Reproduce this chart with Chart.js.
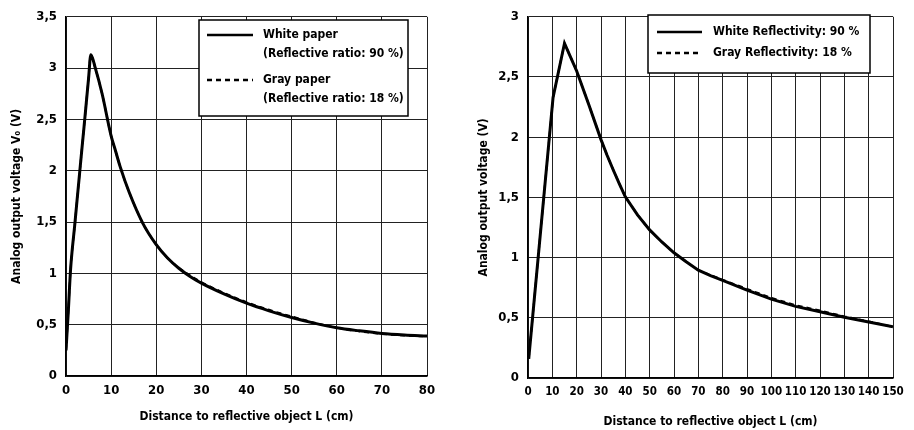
<!DOCTYPE html>
<html>
<head>
<meta charset="utf-8">
<script src="https://cdn.jsdelivr.net/npm/chart.js@4/dist/chart.umd.min.js"></script>
<style>
    html, body { margin: 0; padding: 0; background: #fff; }
    #wrap { display: flex; width: 914px; height: 430px; }
    canvas { display: block; }
</style>
</head>
<body>
<div id="wrap">
    <canvas id="grafico-esquerda" width="457" height="430"></canvas>
    <canvas id="grafico-direita" width="457" height="430"></canvas>
</div>
<script>
// Dados do gráfico da esquerda (0 - 80 cm)
const distEsq = [0, 0.5, 1, 2, 3, 4, 5, 5.5, 6.5, 8, 10, 11, 12, 14, 17, 20, 22.5, 25, 27.5, 30, 35, 40, 45, 50, 55, 60, 65, 70, 75, 80];
const brancoEsq = [0.25, 0.62, 1.03, 1.5, 1.97, 2.43, 2.9, 3.13, 3.0, 2.75, 2.34, 2.19, 2.04, 1.79, 1.49, 1.28, 1.15, 1.05, 0.97, 0.905, 0.8, 0.71, 0.635, 0.57, 0.515, 0.47, 0.44, 0.415, 0.4, 0.39];
const cinzaEsq = [0.25, 0.62, 1.03, 1.5, 1.97, 2.43, 2.9, 3.13, 3.0, 2.75, 2.34, 2.19, 2.04, 1.79, 1.49, 1.28, 1.15, 1.055, 0.98, 0.915, 0.81, 0.72, 0.645, 0.58, 0.52, 0.47, 0.435, 0.41, 0.395, 0.385];
const legendaEsq = [['White paper', '(Reflective ratio: 90 %)'], ['Gray paper', '(Reflective ratio: 18 %)']];

// Dados do gráfico da direita (0 - 150 cm)
const distDir = [0.3, 10.3, 15, 20, 25, 30, 32.5, 35, 37.5, 40, 45, 50, 55, 60, 65, 70, 75, 80, 90, 100, 110, 120, 130, 140, 150];
const brancoDir = [0.16, 2.33, 2.78, 2.55, 2.27, 1.98, 1.85, 1.73, 1.615, 1.505, 1.355, 1.23, 1.13, 1.04, 0.965, 0.895, 0.85, 0.81, 0.73, 0.655, 0.595, 0.55, 0.505, 0.465, 0.425];
const cinzaDir = [0.16, 2.33, 2.78, 2.55, 2.27, 1.98, 1.85, 1.73, 1.615, 1.505, 1.355, 1.23, 1.13, 1.04, 0.965, 0.895, 0.855, 0.815, 0.74, 0.665, 0.605, 0.56, 0.512, 0.47, 0.425];
const legendaDir = [['White Reflectivity: 90 %'], ['Gray Reflectivity: 18 %']];

const FONTE = "'DejaVu Sans Condensed', 'Liberation Sans Narrow', sans-serif";

const pontos = (xs, ys) => xs.map((x, i) => ({ x: x, y: ys[i] }));
const virgula = (v) => String(v).replace('.', ',');

// Legenda dentro da área do gráfico, com caixa
const legendaCaixa = {
    id: 'legendaCaixa',
    afterDraw(chart, args, opts) {
        const ctx = chart.ctx;
        ctx.save();
        ctx.fillStyle = '#fff';
        ctx.fillRect(opts.x, opts.y, opts.w, opts.h);
        ctx.lineWidth = 1.5;
        ctx.strokeStyle = '#000';
        ctx.strokeRect(opts.x, opts.y, opts.w, opts.h);
        ctx.font = 'bold 12px ' + FONTE;
        ctx.textBaseline = 'middle';
        ctx.fillStyle = '#000';
        opts.linhas.forEach((linhas, i) => {
            const ds = chart.data.datasets[i];
            const y = opts.yItens[i];
            ctx.beginPath();
            ctx.lineWidth = 2.5;
            ctx.setLineDash(ds.borderDash || []);
            ctx.moveTo(opts.amostraX, y);
            ctx.lineTo(opts.amostraX + opts.amostraW, y);
            ctx.stroke();
            ctx.setLineDash([]);
            linhas.forEach((txt, j) => {
                ctx.fillText(txt, opts.textoX, y + j * opts.entreLinhas);
            });
        });
        ctx.restore();
    }
};

const criarGrafico = (id, cfg) => {
    const ctx = document.getElementById(id).getContext('2d');
    return new Chart(ctx, {
        type: 'line',
        data: {
            datasets: [{
                label: cfg.legenda[0].join(' '),
                data: pontos(cfg.xs, cfg.branco),
                borderColor: '#000',
                borderWidth: 3,
                pointRadius: 0,
                cubicInterpolationMode: cfg.curva,
                fill: false
            }, {
                label: cfg.legenda[1].join(' '),
                data: pontos(cfg.xs, cfg.cinza),
                borderColor: '#000',
                borderWidth: 2,
                borderDash: [5, 4],
                pointRadius: 0,
                cubicInterpolationMode: cfg.curva,
                fill: false
            }]
        },
        options: {
            responsive: false,
            animation: false,
            layout: { padding: cfg.padding },
            plugins: {
                legend: { display: false },
                tooltip: { enabled: false },
                legendaCaixa: cfg.caixa
            },
            scales: {
                x: {
                    type: 'linear',
                    min: 0,
                    max: cfg.xMax,
                    border: { color: '#000', width: 1.5 },
                    grid: { color: '#222', lineWidth: 1, drawTicks: false },
                    ticks: {
                        stepSize: 10,
                        autoSkip: false,
                        maxRotation: 0,
                        padding: cfg.xTickPad,
                        color: '#000',
                        font: { family: FONTE, size: cfg.xTickTam, weight: 'bold' }
                    },
                    title: {
                        display: true,
                        text: 'Distance to reflective object L (cm)',
                        color: '#000',
                        font: { family: FONTE, size: 12, weight: 'bold', lineHeight: 1.2 },
                        padding: { top: 0, bottom: cfg.xTitlePad }
                    },
                    afterFit: (s) => { s.height = cfg.xAltura; }
                },
                y: {
                    min: 0,
                    max: cfg.yMax,
                    border: { color: '#000', width: 1.5 },
                    grid: { color: '#222', lineWidth: 1, drawTicks: false },
                    ticks: {
                        stepSize: 0.5,
                        padding: 9,
                        color: '#000',
                        font: { family: FONTE, size: 13, weight: 'bold' },
                        callback: (v) => virgula(v)
                    },
                    title: {
                        display: true,
                        text: cfg.yTitulo,
                        color: '#000',
                        font: { family: FONTE, size: 12, weight: 'bold', lineHeight: 1.2 },
                        padding: { top: cfg.yTitlePad, bottom: 0 }
                    },
                    afterFit: (s) => { s.width = cfg.yLargura; }
                }
            }
        },
        plugins: [legendaCaixa]
    });
};

criarGrafico('grafico-esquerda', {
    xs: distEsq, branco: brancoEsq, cinza: cinzaEsq, legenda: legendaEsq,
    curva: 'monotone', xMax: 80, yMax: 3.5, xTickTam: 13,
    yTitulo: 'Analog output voltage V\u2080 (V)',
    padding: { top: 16, right: 30, left: 0, bottom: 0 },
    xAltura: 54, yLargura: 66, xTickPad: 7, xTitlePad: 6, yTitlePad: 10,
    caixa: { x: 199, y: 20, w: 209, h: 96, amostraX: 207, amostraW: 46, textoX: 263, yItens: [35, 80], entreLinhas: 19, linhas: legendaEsq }
});

criarGrafico('grafico-direita', {
    xs: distDir, branco: brancoDir, cinza: cinzaDir, legenda: legendaDir,
    curva: 'default', xMax: 150, yMax: 3, xTickTam: 11.5,
    yTitulo: 'Analog output voltage (V)',
    padding: { top: 13, right: 21, left: 0, bottom: 0 },
    xAltura: 52, yLargura: 71, xTickPad: 7, xTitlePad: 1, yTitlePad: 20,
    caixa: { x: 191, y: 15, w: 222, h: 58, amostraX: 200, amostraW: 45, textoX: 256, yItens: [32, 53], entreLinhas: 0, linhas: legendaDir }
});
</script>
</body>
</html>
